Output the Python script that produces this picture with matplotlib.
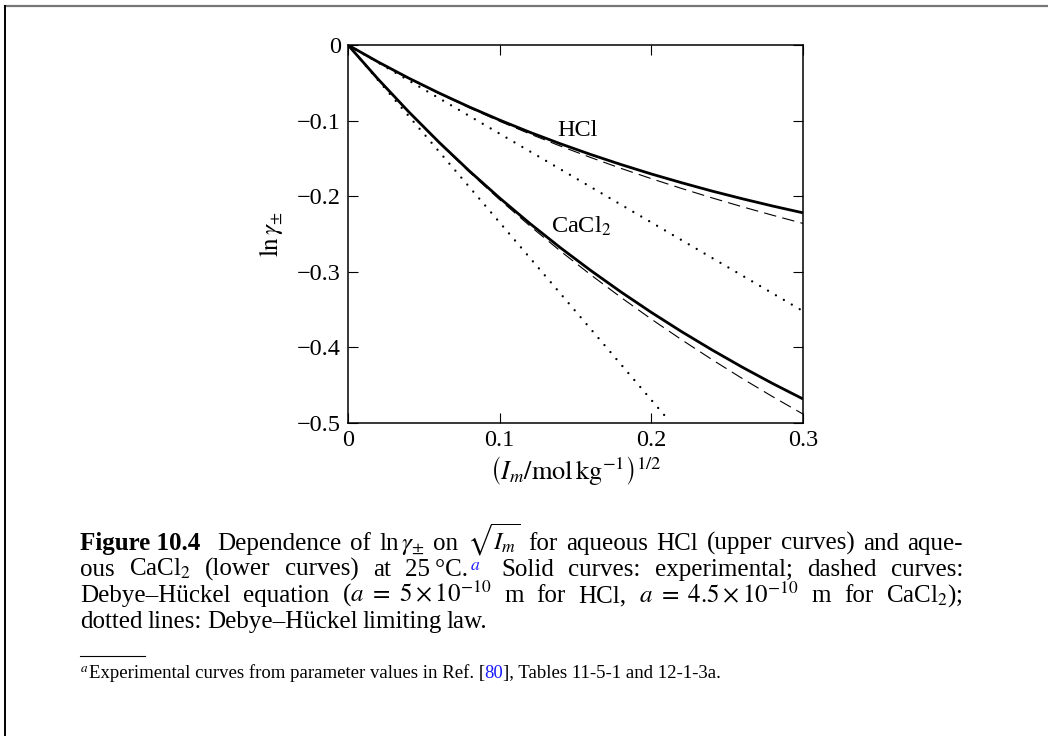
import matplotlib
matplotlib.use("Agg")
import matplotlib.pyplot as plt
from matplotlib.transforms import IdentityTransform
from matplotlib.lines import Line2D

plt.rcParams['font.family'] = ['Liberation Serif', 'DejaVu Serif']
plt.rcParams['mathtext.fontset'] = 'stix'
plt.rcParams['lines.scale_dashes'] = False

# ---- data ----
x_vals = [0.00, 0.02, 0.04, 0.06, 0.08, 0.10, 0.12, 0.14, 0.16, 0.18,
          0.20, 0.22, 0.24, 0.26, 0.28, 0.30]
hcl_exp = [0.0, -0.0226, -0.0438, -0.0635, -0.0820, -0.0993, -0.1155, -0.1306,
           -0.1448, -0.1581, -0.1706, -0.1822, -0.1932, -0.2034, -0.2130, -0.2220]
hcl_dh = [0.0, -0.0227, -0.0441, -0.0641, -0.0830, -0.1009, -0.1177, -0.1337,
          -0.1488, -0.1632, -0.1768, -0.1898, -0.2022, -0.2140, -0.2252, -0.2360]
cacl2_exp = [0.0, -0.0455, -0.0883, -0.1286, -0.1666, -0.2024, -0.2362, -0.2681,
             -0.2982, -0.3267, -0.3537, -0.3792, -0.4033, -0.4262, -0.4478, -0.4682]
cacl2_dh = [0.0, -0.0456, -0.0887, -0.1294, -0.1680, -0.2046, -0.2394, -0.2725,
            -0.3039, -0.3339, -0.3626, -0.3899, -0.4161, -0.4412, -0.4652, -0.4882]
hcl_lim_x = [0.0, 0.30]
hcl_lim_y = [0.0, -0.352]
cacl2_lim_x = [0.0, 0.21]
cacl2_lim_y = [0.0, -0.493]

x_ticks = [0, 0.1, 0.2, 0.3]
x_ticklabels = ["0", "0.1", "0.2", "0.3"]
y_ticks = [0, -0.1, -0.2, -0.3, -0.4, -0.5]
y_ticklabels = ["0", "\u22120.1", "\u22120.2", "\u22120.3", "\u22120.4", "\u22120.5"]

W, H = 1048, 736
fig = plt.figure(figsize=(W / 100, H / 100), dpi=100)
ax = fig.add_axes([348 / W, 1 - 423 / H, 455 / W, 378 / H])

ax.plot(x_vals, hcl_exp, color='black', lw=2.0, solid_capstyle='butt')
ax.plot(x_vals, cacl2_exp, color='black', lw=2.0, solid_capstyle='butt')
ax.plot(x_vals, hcl_dh, color='black', lw=0.8, dashes=(9, 4.5))
ax.plot(x_vals, cacl2_dh, color='black', lw=0.8, dashes=(9, 4.5))
ax.plot(hcl_lim_x, hcl_lim_y, color='black', lw=1.7, dashes=(0.01, 6.6),
        dash_capstyle='round')
ax.plot(cacl2_lim_x, cacl2_lim_y, color='black', lw=1.7, dashes=(0.01, 6.6),
        dash_capstyle='round')

ax.set_xlim(0, 0.3)
ax.set_ylim(-0.5, 0)
ax.set_xticks(x_ticks)
ax.set_xticklabels(x_ticklabels)
ax.set_yticks(y_ticks)
ax.set_yticklabels(y_ticklabels)
ax.tick_params(direction='in', length=7, width=0.8, top=True, right=True,
               labelsize=17.5, pad=5, colors='black')
for s in ax.spines.values():
    s.set_linewidth(1.1)

ax.text(0.151, -0.121, "HCl", fontsize=17.5, ha='center', va='baseline')
ax.text(0.154, -0.248, r"CaCl$_2$", fontsize=17.5, ha='center', va='baseline')

ax.set_xlabel(r"$\left(I_m/\mathrm{mol\,kg^{-1}}\right)^{1/2}$", fontsize=19, labelpad=2)
ax.set_ylabel(r"$\ln\gamma_{\pm}$", fontsize=18, labelpad=9)

# ---- frame lines ----
fig.add_artist(Line2D([5 / W, 1], [1 - 6 / H, 1 - 6 / H], transform=fig.transFigure,
                      color='#777777', lw=1.6))
fig.add_artist(Line2D([5 / W, 5 / W], [0, 1 - 6 / H], transform=fig.transFigure,
                      color='black', lw=1.4))

# ---- caption ----
renderer = fig.canvas.get_renderer()
FS = 18
ident = IdentityTransform()


def place_line(tokens, x0, x1, ytop, justify=True, fs=FS):
    y = H - ytop
    arts = []
    widths = []
    for tok in tokens:
        t = fig.text(0, y, tok['s'], fontsize=tok.get('fs', fs),
                     fontweight=tok.get('weight', 'normal'),
                     color=tok.get('color', 'black'), transform=ident,
                     va='baseline', ha='left')
        arts.append(t)
        widths.append(t.get_window_extent(renderer).width)
    total = sum(widths)
    ngaps = sum(1 for tok in tokens[1:] if not tok.get('attach'))
    extra = sum(tok.get('extra', 0) for tok in tokens)
    if justify and ngaps > 0:
        gap = (x1 - x0 - total - extra) / ngaps
    else:
        gap = 5.0
    x = x0
    for i, (t, tok, w) in enumerate(zip(arts, tokens, widths)):
        if i > 0 and not tok.get('attach'):
            x += gap
        x += tok.get('extra', 0)
        t.set_position((x, y))
        x += w


def words(s, **kw):
    return [dict(s=w, **kw) for w in s.split(' ')]


line1 = ([dict(s="Figure 10.4", weight='bold')] +
         [dict(s="Dependence", extra=8)] +
         words("of") + [dict(s=r"ln$\,\gamma_{\pm}$"), dict(s="on"),
                        dict(s=r"$\sqrt{I_m}$")] +
         words("for aqueous HCl (upper curves) and aque-"))
line2 = (words("ous") + [dict(s=r"CaCl$_2$")] + words("(lower curves) at") +
         [dict(s="25\u2009°C."),
          dict(s=r"$^{a}$", color='#1a1aff', attach=True, extra=2),
          dict(s="Solid", extra=6)] +
         words("curves: experimental; dashed curves:"))
line3 = (words("Debye–Hückel equation") +
         [dict(s=r"($a\ =\ 5\times10^{-10}$"),
          dict(s="m"), dict(s="for"), dict(s="HCl,"),
          dict(s=r"$a\ =\ 4.5\times10^{-10}$"), dict(s="m"),
          dict(s="for"), dict(s=r"CaCl$_2$);")])
line4 = words("dotted lines: Debye–Hückel limiting law.")

place_line(line1, 80, 963, 550)
place_line(line2, 80, 963, 576)
place_line(line3, 80, 963, 602)
place_line(line4, 80, 963, 628, justify=False)

# footnote rule
fig.add_artist(Line2D([80 / W, 145 / W], [1 - 656 / H, 1 - 656 / H],
                      transform=fig.transFigure, color='black', lw=0.8))

FN = 13.5
foot = [dict(s=r"$^{a}$", fs=FN),
        dict(s="Experimental curves from parameter values in Ref. [", fs=FN, attach=True),
        dict(s="80", fs=FN, color='#1a1aff', attach=True),
        dict(s="], Tables 11-5-1 and 12-1-3a.", fs=FN, attach=True)]
place_line(foot, 80, 963, 678, justify=False)

fig.savefig("out.png", dpi=100)
